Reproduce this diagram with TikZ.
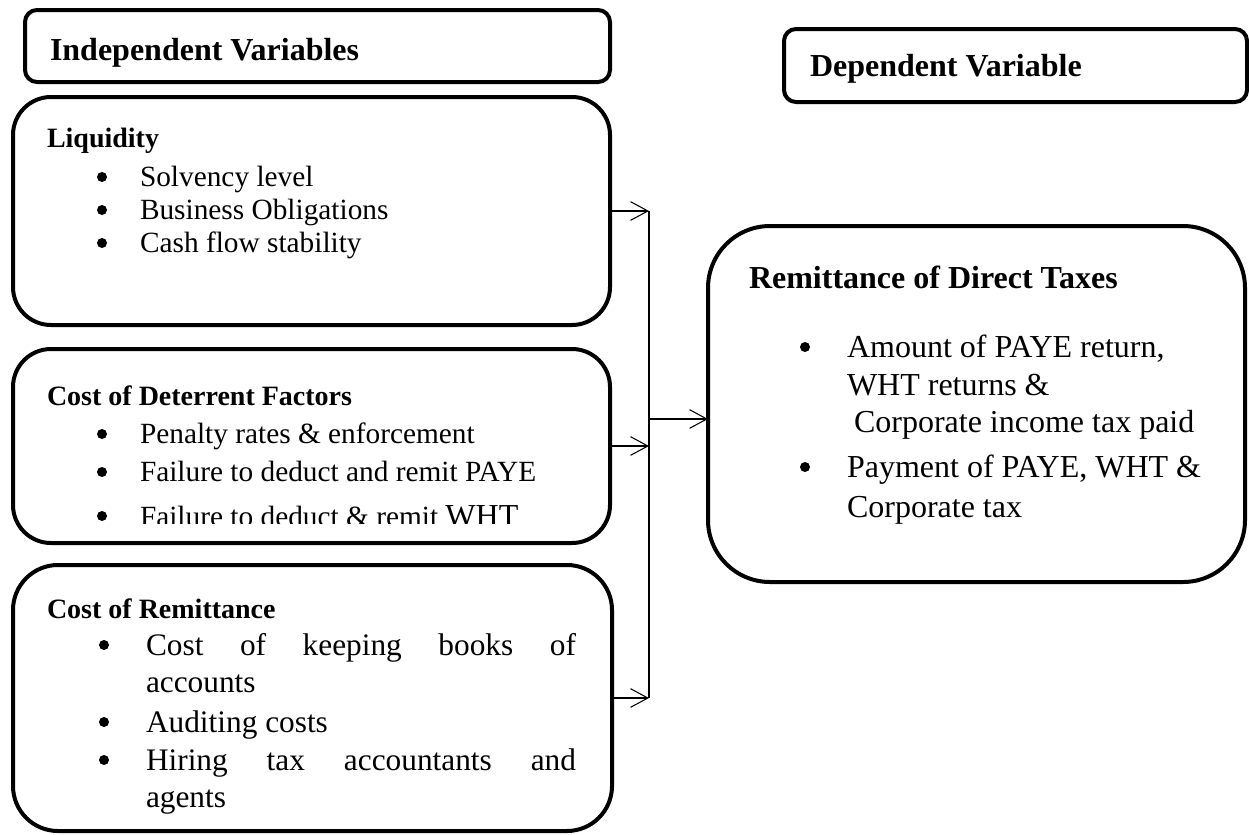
\documentclass[tikz,border=0pt]{standalone}
\usepackage{fontspec}
\setmainfont{Liberation Serif}
\usetikzlibrary{arrows.meta}
\begin{document}
\begin{tikzpicture}[x=0.75pt,y=-0.75pt,
  box/.style={draw, line width=3pt, outer sep=0pt, inner sep=0pt},
  txt/.style={anchor=base west, inner sep=0pt, outer sep=0pt},
  hfont/.style={font=\fontsize{24}{28}\selectfont\bfseries},
  tfont/.style={font=\fontsize{21}{25}\selectfont\bfseries},
  bfont/.style={font=\fontsize{22}{26}\selectfont},
  rfont/.style={font=\fontsize{23.5}{27}\selectfont},
  dfont/.style={font=\fontsize{24}{28}\selectfont},
  dot/.style={circle, fill=black, inner sep=0pt, minimum size=7.5pt},
  arr/.style={line width=0.8pt, -{Straight Barb[length=13pt,width=14pt,line width=0.8pt]}}]
\useasboundingbox (0,0) rectangle (1249,835);

% boxes
\node[box, rounded corners=9pt, minimum width=438.75pt, minimum height=54pt] (hdrL) at (317.5,46) {};
\node[box, rounded corners=9pt, minimum width=347.25pt, minimum height=54.75pt] (hdrR) at (1015.5,65.5) {};
\node[box, rounded corners=28.5pt, minimum width=447.75pt, minimum height=171pt] (liq) at (311.5,211) {};
\node[box, rounded corners=28.5pt, minimum width=447.75pt, minimum height=145.5pt] (det) at (311.5,446) {};
\node[box, rounded corners=33.75pt, minimum width=449.25pt, minimum height=199.5pt] (rem) at (312.5,698) {};
\node[box, rounded corners=46.5pt, minimum width=402.75pt, minimum height=267pt] (dv) at (976.5,404) {};

% headers
\node[txt, hfont] (tL) at (50,60) {Independent Variables};
\node[txt, hfont] (tR) at (810,76) {Dependent Variable};

% Liquidity
\node[txt, tfont] (liqT) at (47,147) {Liquidity};
\node[txt, bfont] (liq1) at (140,186) {Solvency level};
\node[txt, bfont] (liq2) at (140,219) {Business Obligations};
\node[txt, bfont] (liq3) at (140,252) {Cash flow stability};
\node[dot] (ld1) at (102,177) {};
\node[dot] (ld2) at (102,210) {};
\node[dot] (ld3) at (102,243) {};

% Deterrent
\node[txt, tfont] (detT) at (47,405) {Cost of Deterrent Factors};
\node[txt, bfont] (det1) at (140,443) {Penalty rates \& enforcement};
\node[txt, bfont] (det2) at (140,481) {Failure to deduct and remit PAYE};
\node[dot] (dd1) at (102,434) {};
\node[dot] (dd2) at (102,472) {};
\begin{scope}
  \clip (0,0) rectangle (700,523);
  \node[txt, bfont] (det3) at (140,526) {Failure to deduct \& remit {\fontsize{24}{28}\selectfont WHT}};
  \node[dot] (dd3) at (102,516) {};
\end{scope}

% Remittance
\node[txt, tfont] (remT) at (47,618) {Cost of Remittance};
\node[txt, rfont] (rem1) at (146,655) {\makebox[322.5pt][s]{Cost of keeping books of}};
\node[txt, rfont] (rem2) at (146,692) {accounts};
\node[txt, rfont] (rem3) at (146,732) {Auditing costs};
\node[txt, rfont] (rem4) at (146,770) {\makebox[322.5pt][s]{Hiring tax accountants and}};
\node[txt, rfont] (rem5) at (146,807) {agents};
\node[dot] (rd1) at (104,645) {};
\node[dot] (rd2) at (104,722) {};
\node[dot] (rd3) at (104,760) {};

% Dependent variable box
\node[txt, hfont] (dvT) at (749,288) {Remittance of Direct Taxes};
\node[txt, dfont] (dv1) at (847,357) {Amount of PAYE return,};
\node[txt, dfont] (dv2) at (847,395) {WHT returns \&};
\node[txt, dfont] (dv3) at (854,432) {Corporate income tax paid};
\node[txt, dfont] (dv4) at (847,477) {Payment of PAYE, WHT \&};
\node[txt, dfont] (dv5) at (847,517) {Corporate tax};
\node[dot] (vd1) at (805,347) {};
\node[dot] (vd2) at (805,467) {};

% connectors
\coordinate (sp) at (649,0);
\coordinate (jm) at (649,419);
\draw[line width=0.8pt] (liq.east -| sp) -- (rem.east -| sp);
\draw[arr] (liq.east) -- (liq.east -| sp);
\draw[arr] (det.east) -- (det.east -| sp);
\draw[arr] (rem.east) -- (rem.east -| sp);
\draw[arr] (jm) -- (jm -| dv.west);
\end{tikzpicture}
\end{document}
